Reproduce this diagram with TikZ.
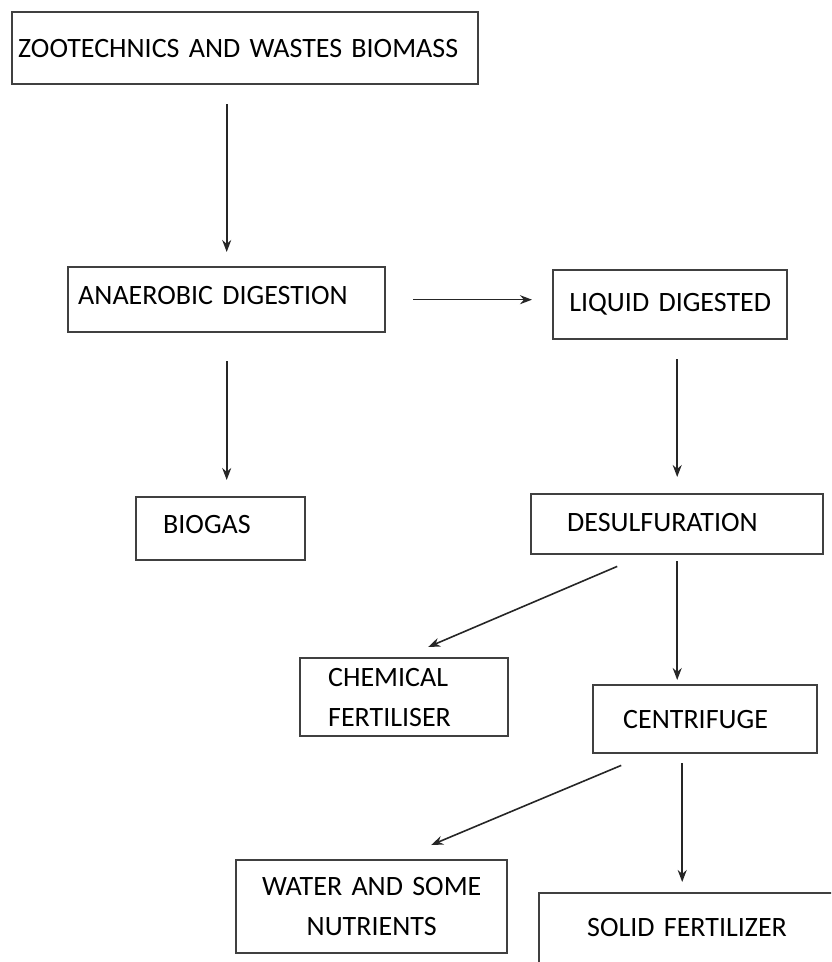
\documentclass[tikz,border=0pt]{standalone}
\usepackage{fontspec}
\setmainfont{Carlito}
\usetikzlibrary{arrows.meta}

\tikzset{
  box/.style={draw=black!75, line width=1.2pt, anchor=north west, inner ysep=0pt,
    font=\fontsize{14}{20}\selectfont},
  arr/.style={draw=black!85, line width=0.8pt, -{Stealth[length=6pt,width=4.5pt]}}
}

\begin{document}
\begin{tikzpicture}[x=0.5pt,y=-0.5pt]
    \useasboundingbox (0,0) rectangle (831,962);
    \clip (0,0) rectangle (831,962);
    % boxes
    \node[box, align=left, inner xsep=3pt, text width=227pt, minimum height=36pt] (zoo) at (11,11) {ZOOTECHNICS AND WASTES BIOMASS};
    \node[box, align=left, inner xsep=5pt, text width=148.5pt, minimum height=32.5pt, text depth=4pt] (dig) at (67,266) {ANAEROBIC DIGESTION};
    \node[box, align=center, inner xsep=5pt, text width=107pt, minimum height=34.5pt] (liq) at (552,269) {LIQUID DIGESTED};
    \node[box, align=left, inner xsep=13.5pt, text width=57.5pt, minimum height=31.5pt, text depth=4pt] (bio) at (135,496) {BIOGAS};
    \node[box, align=left, inner xsep=18pt, text width=110pt, minimum height=30pt, text depth=2pt] (des) at (530,493) {DESULFURATION};
    \node[box, align=left, inner xsep=14pt, text width=76pt, minimum height=39pt] (che) at (299,657) {CHEMICAL\\FERTILISER};
    \node[box, align=left, inner xsep=15pt, text width=82pt, minimum height=34pt] (cen) at (592,684) {CENTRIFUGE};
    \node[box, align=center, inner xsep=5pt, text width=125.5pt, minimum height=46.5pt] (wat) at (235,859) {WATER AND SOME\\NUTRIENTS};
    \node[box, align=left, inner xsep=24pt, text width=112pt, minimum height=45pt, text depth=11pt] (sol) at (538,892) {SOLID FERTILIZER};
    % arrows
    \draw[arr, shorten <=9.5pt, shorten >=7pt] (zoo.south -| dig.north) -- (dig.north);
    \draw[arr, shorten <=13.5pt, shorten >=10pt] (dig.east) -- (dig.east -| liq.west);
    \draw[arr, shorten <=14pt, shorten >=8pt] (dig.south) -- (dig.south |- bio.north);
    \draw[arr, shorten <=9.5pt, shorten >=8pt] (des.north |- liq.south) -- (des.north);
    \draw[arr] ([xshift=-30pt,yshift=-5.5pt]des.south) -- ([xshift=12pt,yshift=5pt]che.north);
    \draw[arr, shorten <=3pt, shorten >=2pt] (des.south) -- (des.south |- cen.north);
    \draw[arr] ([xshift=-42pt,yshift=-5.5pt]cen.south) -- ([xshift=29.75pt,yshift=7pt]wat.north);
    \draw[arr, shorten <=4.5pt, shorten >=5pt] ([xshift=-11.5pt]cen.south) -- ([xshift=-11.5pt]cen.south |- sol.north);
\end{tikzpicture}
\end{document}
